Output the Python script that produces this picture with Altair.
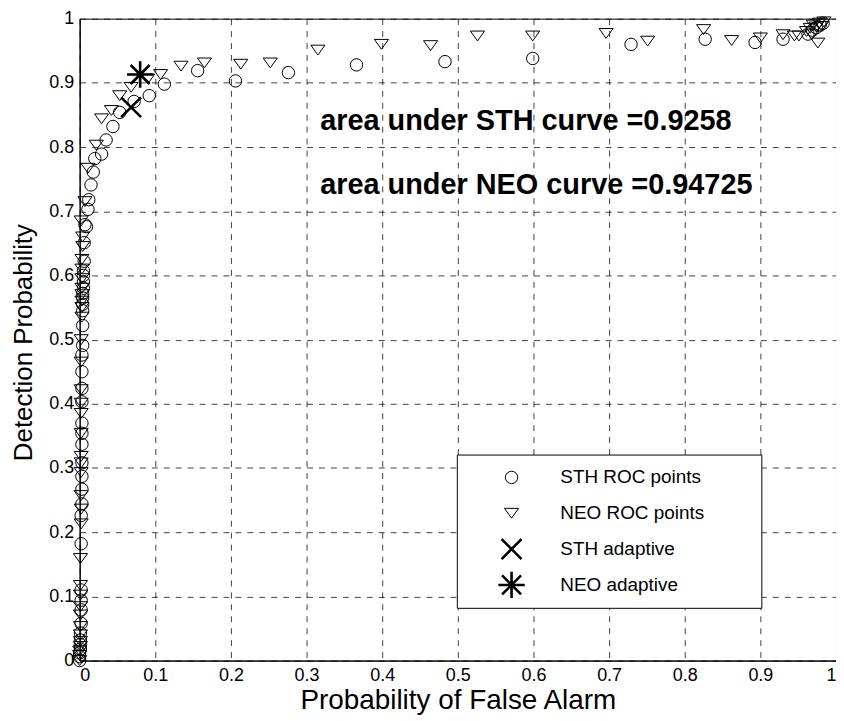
import altair as alt
import pandas as pd

# ---- data ----
sth_x = [0.000, 0.000, 0.000, 0.001, 0.001, 0.001, 0.001, 0.002, 0.002, 0.002,
         0.002, 0.002, 0.002, 0.003, 0.003, 0.003, 0.003, 0.003, 0.003, 0.003,
         0.003, 0.003, 0.003, 0.003, 0.004, 0.004, 0.004, 0.004, 0.004, 0.004,
         0.005, 0.005, 0.005, 0.005, 0.006, 0.006, 0.007,
         0.009, 0.011, 0.012, 0.015, 0.018, 0.020, 0.029, 0.035, 0.044, 0.053,
         0.072, 0.092, 0.112, 0.156, 0.206, 0.276, 0.366, 0.483, 0.599, 0.729,
         0.827, 0.893, 0.930, 0.963, 0.969, 0.974, 0.979, 0.983]
sth_y = [0.000, 0.006, 0.012, 0.018, 0.025, 0.032, 0.043, 0.058, 0.079, 0.094,
         0.110, 0.182, 0.226, 0.244, 0.267, 0.287, 0.308, 0.337, 0.354, 0.370,
         0.403, 0.424, 0.450, 0.476, 0.491, 0.522, 0.545, 0.555, 0.565, 0.572,
         0.580, 0.590, 0.600, 0.607, 0.622, 0.651, 0.679,
         0.676, 0.703, 0.718, 0.741, 0.761, 0.782, 0.789, 0.811, 0.832, 0.854,
         0.871, 0.880, 0.898, 0.919, 0.903, 0.916, 0.928, 0.933, 0.938, 0.960,
         0.968, 0.963, 0.968, 0.976, 0.982, 0.986, 0.990, 0.993]

neo_x = [0.000, 0.000, 0.000, 0.001, 0.001, 0.001, 0.001, 0.001, 0.001, 0.001,
         0.001, 0.001, 0.002, 0.002, 0.002, 0.002, 0.002, 0.002, 0.002, 0.002,
         0.002, 0.002, 0.002, 0.002, 0.003, 0.003, 0.003, 0.003, 0.003, 0.003,
         0.003, 0.003, 0.004, 0.004,
         0.002, 0.007, 0.011, 0.022, 0.029, 0.042, 0.053, 0.068, 0.090, 0.107,
         0.134, 0.165, 0.213, 0.252, 0.315, 0.399, 0.464, 0.526, 0.599, 0.696,
         0.751, 0.825, 0.862, 0.900, 0.930, 0.945, 0.951, 0.961, 0.966, 0.968,
         0.970, 0.974, 0.976, 0.978, 0.981, 0.984]
neo_y = [0.000, 0.008, 0.015, 0.022, 0.030, 0.040, 0.053, 0.071, 0.084, 0.102,
         0.117, 0.159, 0.213, 0.236, 0.257, 0.293, 0.308, 0.318, 0.354, 0.385,
         0.401, 0.422, 0.465, 0.500, 0.535, 0.550, 0.560, 0.570, 0.580, 0.595,
         0.610, 0.625, 0.645, 0.660,
         0.685, 0.715, 0.767, 0.803, 0.844, 0.857, 0.880, 0.893, 0.906, 0.913,
         0.926, 0.931, 0.929, 0.931, 0.951, 0.960, 0.958, 0.973, 0.973, 0.977,
         0.965, 0.983, 0.966, 0.970, 0.975, 0.973, 0.973, 0.980, 0.985, 0.975,
         0.990, 0.987, 0.962, 0.993, 0.988, 0.995]

sth_adaptive_x = [0.068]
sth_adaptive_y = [0.862]
neo_adaptive_x = [0.080]
neo_adaptive_y = [0.913]

series_names = ["STH ROC points", "NEO ROC points", "STH adaptive", "NEO adaptive"]

annot_x = [0.318, 0.318]
annot_y = [0.840, 0.741]
annot_text = ["area under STH curve =0.9258", "area under NEO curve =0.94725"]

ticks = [0, 0.1, 0.2, 0.3, 0.4, 0.5, 0.6, 0.7, 0.8, 0.9, 1]

# ---- tables ----
frames = []
for name, xs, ys in [
    (series_names[0], sth_x, sth_y),
    (series_names[1], neo_x, neo_y),
    (series_names[2], sth_adaptive_x, sth_adaptive_y),
    (series_names[3], neo_adaptive_x, neo_adaptive_y),
]:
    frames.append(pd.DataFrame({"x": xs, "y": ys, "series": name}))
points_df = pd.concat(frames, ignore_index=True)
annot_df = pd.DataFrame({"x": annot_x, "y": annot_y, "text": annot_text})

shapes = [
    "circle",
    "M-1,-0.7L1,-0.7L0,0.7Z",
    "M-1,-1L1,1M-1,1L1,-1",
    "M0,-1L0,1M-1,0L1,0M-0.72,-0.72L0.72,0.72M-0.72,0.72L0.72,-0.72",
]
sizes = [155, 200, 400, 700]
widths = [1, 1, 2.6, 2.6]

FONT = "Liberation Sans"
PAD = "\u00a0" * 9 + "\u200b"

x_scale = alt.Scale(domain=[0, 1], nice=False, zero=False)
y_scale = alt.Scale(domain=[0, 1], nice=False, zero=False)

legend = alt.Legend(
    title=None,
    orient="none",
    legendX=379,
    legendY=438,
    fillColor="white",
    strokeColor="black",
    padding=9,
    rowPadding=8,
    clipHeight=28,
    symbolOffset=31,
    labelOffset=34,
    labelFont=FONT,
    labelFontSize=19,
    labelColor="black",
    labelLimit=400,
    symbolStrokeColor="black",
    labelExpr="datum.label + '" + PAD + "'",
)

points = alt.Chart(points_df).mark_point(filled=False, color="black", opacity=1).encode(
    x=alt.X("x:Q", scale=x_scale, axis=alt.Axis(
        values=ticks, format="~g", title="Probability of False Alarm",
        titleX=380, titleY=40, titleBaseline="middle", titleAlign="center")),
    y=alt.Y("y:Q", scale=y_scale, axis=alt.Axis(
        values=ticks, format="~g", title="Detection Probability", titleFontSize=26,
        titleX=-56, titleY=325, titleBaseline="middle", titleAlign="center", titleAngle=270)),
    shape=alt.Shape("series:N", sort=series_names,
                    scale=alt.Scale(domain=series_names, range=shapes), legend=legend),
    size=alt.Size("series:N", sort=series_names,
                  scale=alt.Scale(type="ordinal", domain=series_names, range=sizes), legend=legend),
    strokeWidth=alt.StrokeWidth("series:N", sort=series_names,
                                scale=alt.Scale(type="ordinal", domain=series_names, range=widths),
                                legend=legend),
)

text = alt.Chart(annot_df).mark_text(
    align="left", baseline="middle", font=FONT, fontSize=29, fontWeight="bold", color="black"
).encode(x="x:Q", y="y:Q", text="text:N")

chart = alt.layer(points, text).properties(
    width=760,
    height=645,
    padding={"left": 72, "top": 9, "right": 0, "bottom": 57},
    autosize=alt.AutoSizeParams(type="none"),
).configure_view(
    stroke="black", strokeWidth=1
).configure_axis(
    grid=True,
    gridColor="black",
    gridOpacity=0.75,
    gridDash=[6, 6],
    gridWidth=1,
    domain=True,
    domainColor="black",
    ticks=False,
    labelFont=FONT,
    labelFontSize=18,
    labelColor="black",
    labelPadding=6,
    titleFont=FONT,
    titleFontSize=28,
    titleFontWeight="normal",
    titleColor="black",
)

chart.save("out.html", embed_options={"renderer": "svg", "actions": False})
